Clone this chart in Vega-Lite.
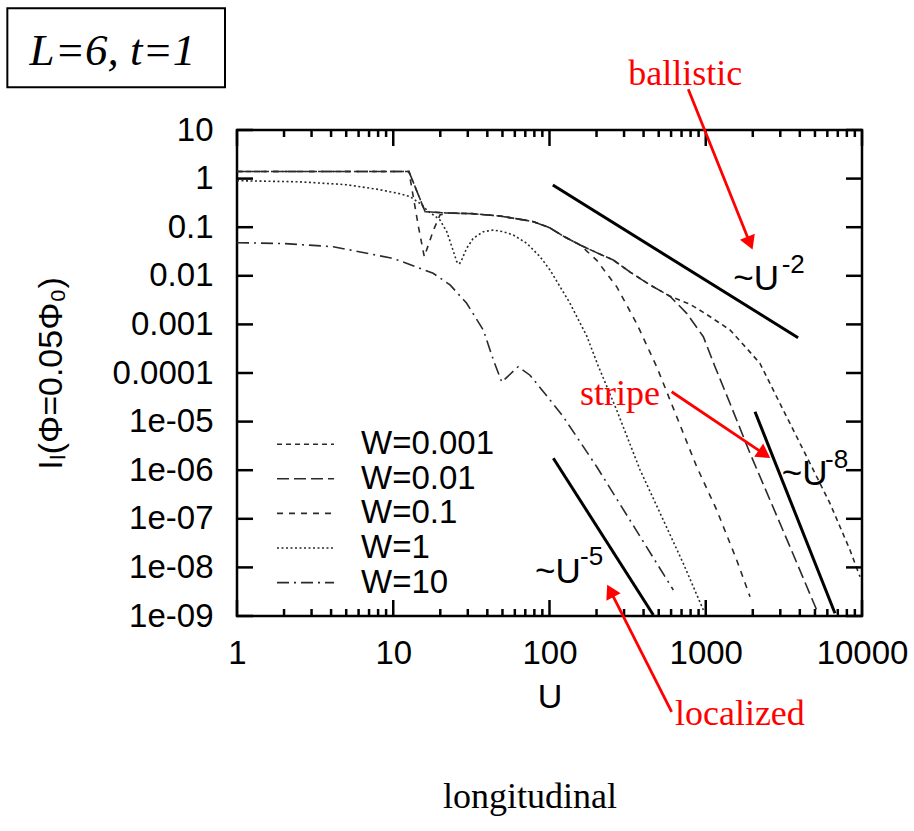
{
  "$schema": "https://vega.github.io/schema/vega-lite/v6.json",
  "width": 625,
  "height": 486,
  "autosize": {"type": "none"},
  "padding": {"left": 237, "top": 130, "right": 52, "bottom": 215},
  "background": "white",
  "config": {
    "view": {"stroke": "black", "strokeWidth": 2.5},
    "axis": {
      "grid": false,
      "domain": false,
      "labelFont": "Liberation Sans",
      "labelFontSize": 33,
      "labelColor": "black",
      "labelFlush": false,
      "labelOverlap": false,
      "tickSize": 0,
      "tickOpacity": 0,
      "titleFont": "Liberation Sans",
      "titleFontSize": 34,
      "titleFontWeight": "normal",
      "titleColor": "black"
    }
  },
  "datasets": {
    "curves": [
      {"W": "W=0.001", "U": 1, "I": 1.4}, {"W": "W=0.001", "U": 5, "I": 1.4}, {"W": "W=0.001", "U": 12.6, "I": 1.4},
      {"W": "W=0.001", "U": 16, "I": 0.208}, {"W": "W=0.001", "U": 22, "I": 0.196}, {"W": "W=0.001", "U": 32, "I": 0.19},
      {"W": "W=0.001", "U": 48, "I": 0.17}, {"W": "W=0.001", "U": 65, "I": 0.145}, {"W": "W=0.001", "U": 79, "I": 0.13},
      {"W": "W=0.001", "U": 100, "I": 0.098}, {"W": "W=0.001", "U": 123, "I": 0.065}, {"W": "W=0.001", "U": 157, "I": 0.043},
      {"W": "W=0.001", "U": 200, "I": 0.03}, {"W": "W=0.001", "U": 256, "I": 0.0211}, {"W": "W=0.001", "U": 330, "I": 0.0118},
      {"W": "W=0.001", "U": 440, "I": 0.0065}, {"W": "W=0.001", "U": 590, "I": 0.0038}, {"W": "W=0.001", "U": 793, "I": 0.0026},
      {"W": "W=0.001", "U": 1000, "I": 0.00165}, {"W": "W=0.001", "U": 1429, "I": 0.00077}, {"W": "W=0.001", "U": 1800, "I": 0.00034},
      {"W": "W=0.001", "U": 2223, "I": 0.000158}, {"W": "W=0.001", "U": 3133, "I": 1.73e-5}, {"W": "W=0.001", "U": 4426, "I": 1.9e-6},
      {"W": "W=0.001", "U": 6237, "I": 2.08e-7}, {"W": "W=0.001", "U": 8375, "I": 2.28e-8}, {"W": "W=0.001", "U": 9709, "I": 6.4e-9},

      {"W": "W=0.01", "U": 1, "I": 1.4}, {"W": "W=0.01", "U": 5, "I": 1.4}, {"W": "W=0.01", "U": 12.6, "I": 1.4},
      {"W": "W=0.01", "U": 16, "I": 0.208}, {"W": "W=0.01", "U": 22, "I": 0.196}, {"W": "W=0.01", "U": 32, "I": 0.19},
      {"W": "W=0.01", "U": 48, "I": 0.17}, {"W": "W=0.01", "U": 65, "I": 0.145}, {"W": "W=0.01", "U": 79, "I": 0.13},
      {"W": "W=0.01", "U": 100, "I": 0.098}, {"W": "W=0.01", "U": 123, "I": 0.065}, {"W": "W=0.01", "U": 157, "I": 0.043},
      {"W": "W=0.01", "U": 200, "I": 0.03}, {"W": "W=0.01", "U": 256, "I": 0.0211}, {"W": "W=0.01", "U": 330, "I": 0.0118},
      {"W": "W=0.01", "U": 440, "I": 0.0065}, {"W": "W=0.01", "U": 590, "I": 0.0038}, {"W": "W=0.01", "U": 755, "I": 0.00169},
      {"W": "W=0.01", "U": 965, "I": 0.000558}, {"W": "W=0.01", "U": 1146, "I": 0.000135}, {"W": "W=0.01", "U": 1429, "I": 2.38e-5},
      {"W": "W=0.01", "U": 1920, "I": 2.23e-6}, {"W": "W=0.01", "U": 2577, "I": 2.44e-7}, {"W": "W=0.01", "U": 3459, "I": 2.67e-8},
      {"W": "W=0.01", "U": 5129, "I": 1.33e-9},

      {"W": "W=0.1", "U": 1, "I": 1.4}, {"W": "W=0.1", "U": 5, "I": 1.4}, {"W": "W=0.1", "U": 12.6, "I": 1.4},
      {"W": "W=0.1", "U": 14.5, "I": 0.102}, {"W": "W=0.1", "U": 15.8, "I": 0.0247}, {"W": "W=0.1", "U": 18.1, "I": 0.0875},
      {"W": "W=0.1", "U": 19.9, "I": 0.178}, {"W": "W=0.1", "U": 22, "I": 0.196}, {"W": "W=0.1", "U": 32, "I": 0.19},
      {"W": "W=0.1", "U": 48, "I": 0.17}, {"W": "W=0.1", "U": 65, "I": 0.145}, {"W": "W=0.1", "U": 79, "I": 0.13},
      {"W": "W=0.1", "U": 100, "I": 0.098}, {"W": "W=0.1", "U": 123, "I": 0.065}, {"W": "W=0.1", "U": 157, "I": 0.043},
      {"W": "W=0.1", "U": 200, "I": 0.0211}, {"W": "W=0.1", "U": 269, "I": 0.00597}, {"W": "W=0.1", "U": 361, "I": 0.00105},
      {"W": "W=0.1", "U": 485, "I": 0.000135}, {"W": "W=0.1", "U": 652, "I": 1.26e-5}, {"W": "W=0.1", "U": 875, "I": 1.18e-6},
      {"W": "W=0.1", "U": 1175, "I": 1.52e-7}, {"W": "W=0.1", "U": 1578, "I": 1.42e-8}, {"W": "W=0.1", "U": 1920, "I": 2.49e-9},

      {"W": "W=1", "U": 1, "I": 0.905}, {"W": "W=1", "U": 2.5, "I": 0.86}, {"W": "W=1", "U": 5, "I": 0.75},
      {"W": "W=1", "U": 8, "I": 0.6}, {"W": "W=1", "U": 9.5, "I": 0.537}, {"W": "W=1", "U": 11, "I": 0.49},
      {"W": "W=1", "U": 12.8, "I": 0.425}, {"W": "W=1", "U": 14.8, "I": 0.31}, {"W": "W=1", "U": 16.4, "I": 0.226},
      {"W": "W=1", "U": 18.1, "I": 0.178}, {"W": "W=1", "U": 19.9, "I": 0.141}, {"W": "W=1", "U": 22, "I": 0.081},
      {"W": "W=1", "U": 23.7, "I": 0.04}, {"W": "W=1", "U": 25.5, "I": 0.0195}, {"W": "W=1", "U": 26.5, "I": 0.0175},
      {"W": "W=1", "U": 27.4, "I": 0.0211}, {"W": "W=1", "U": 29.5, "I": 0.0368}, {"W": "W=1", "U": 32.5, "I": 0.0592},
      {"W": "W=1", "U": 37.7, "I": 0.0807}, {"W": "W=1", "U": 43.7, "I": 0.0875}, {"W": "W=1", "U": 50.6, "I": 0.0807},
      {"W": "W=1", "U": 58.6, "I": 0.0692}, {"W": "W=1", "U": 71.5, "I": 0.0467}, {"W": "W=1", "U": 87, "I": 0.0247},
      {"W": "W=1", "U": 100.7, "I": 0.0132}, {"W": "W=1", "U": 135, "I": 0.00275}, {"W": "W=1", "U": 173, "I": 0.00058},
      {"W": "W=1", "U": 205, "I": 0.00014}, {"W": "W=1", "U": 269, "I": 1.73e-5}, {"W": "W=1", "U": 380, "I": 1.01e-6},
      {"W": "W=1", "U": 535, "I": 9.4e-8}, {"W": "W=1", "U": 718, "I": 1.21e-8}, {"W": "W=1", "U": 965, "I": 1.33e-9},

      {"W": "W=10", "U": 1, "I": 0.048}, {"W": "W=10", "U": 2, "I": 0.046}, {"W": "W=10", "U": 4.13, "I": 0.0397},
      {"W": "W=10", "U": 9.5, "I": 0.0235}, {"W": "W=10", "U": 11, "I": 0.0205}, {"W": "W=10", "U": 18, "I": 0.0113},
      {"W": "W=10", "U": 23.1, "I": 0.0065}, {"W": "W=10", "U": 29.5, "I": 0.00272}, {"W": "W=10", "U": 37.7, "I": 0.000767},
      {"W": "W=10", "U": 44, "I": 0.000175}, {"W": "W=10", "U": 49.5, "I": 6.5e-5}, {"W": "W=10", "U": 63, "I": 0.000135},
      {"W": "W=10", "U": 75, "I": 9e-5}, {"W": "W=10", "U": 100.7, "I": 2.8e-5}, {"W": "W=10", "U": 122.5, "I": 1.26e-5},
      {"W": "W=10", "U": 200.5, "I": 1.18e-6}, {"W": "W=10", "U": 327, "I": 9.4e-8}, {"W": "W=10", "U": 620, "I": 3.43e-9}
    ],
    "xTicks": [
      {"U": 1, "kind": "major"}, {"U": 10, "kind": "major"}, {"U": 100, "kind": "major"}, {"U": 1000, "kind": "major"}, {"U": 10000, "kind": "major"},
      {"U": 2, "kind": "minor"}, {"U": 3, "kind": "minor"}, {"U": 4, "kind": "minor"}, {"U": 5, "kind": "minor"}, {"U": 6, "kind": "minor"}, {"U": 7, "kind": "minor"}, {"U": 8, "kind": "minor"}, {"U": 9, "kind": "minor"},
      {"U": 20, "kind": "minor"}, {"U": 30, "kind": "minor"}, {"U": 40, "kind": "minor"}, {"U": 50, "kind": "minor"}, {"U": 60, "kind": "minor"}, {"U": 70, "kind": "minor"}, {"U": 80, "kind": "minor"}, {"U": 90, "kind": "minor"},
      {"U": 200, "kind": "minor"}, {"U": 300, "kind": "minor"}, {"U": 400, "kind": "minor"}, {"U": 500, "kind": "minor"}, {"U": 600, "kind": "minor"}, {"U": 700, "kind": "minor"}, {"U": 800, "kind": "minor"}, {"U": 900, "kind": "minor"},
      {"U": 2000, "kind": "minor"}, {"U": 3000, "kind": "minor"}, {"U": 4000, "kind": "minor"}, {"U": 5000, "kind": "minor"}, {"U": 6000, "kind": "minor"}, {"U": 7000, "kind": "minor"}, {"U": 8000, "kind": "minor"}, {"U": 9000, "kind": "minor"}
    ],
    "yTicks": [
      {"I": 1e-9}, {"I": 1e-8}, {"I": 1e-7}, {"I": 1e-6}, {"I": 1e-5}, {"I": 0.0001}, {"I": 0.001}, {"I": 0.01}, {"I": 0.1}, {"I": 1}, {"I": 10}
    ],
    "laws": [
      {"law": "-2", "U": 105, "I": 0.735}, {"law": "-2", "U": 3900, "I": 0.000533},
      {"law": "-5", "U": 105.8, "I": 1.76e-6}, {"law": "-5", "U": 462, "I": 1.05e-9},
      {"law": "-8", "U": 2066, "I": 1.6e-5}, {"law": "-8", "U": 6714, "I": 1.14e-9}
    ],
    "lawLabels": [
      {"text": "~U", "U": 1500, "I": 0.0051},
      {"text": "~U", "U": 3062, "I": 4.95e-7},
      {"text": "~U", "U": 80.7, "I": 4.71e-9}
    ],
    "lawExponents": [
      {"text": "-2", "U": 3062, "I": 0.01125},
      {"text": "-8", "U": 5796, "I": 1.09e-6},
      {"text": "-5", "U": 156.7, "I": 1.12e-8}
    ],
    "notes": [
      {"text": "ballistic", "U": 319, "I": 84.4},
      {"text": "stripe", "U": 156.7, "I": 2.2e-5},
      {"text": "localized", "U": 635, "I": 5.71e-12}
    ],
    "arrows": [
      {"arrow": "ballistic", "end": "tail", "U": 773, "I": 68.7},
      {"arrow": "ballistic", "end": "head", "U": 1894, "I": 0.0522},
      {"arrow": "stripe", "end": "tail", "U": 605, "I": 4.12e-5},
      {"arrow": "stripe", "end": "head", "U": 2309, "I": 2.28e-6},
      {"arrow": "localized", "end": "tail", "U": 605, "I": 1.07e-11},
      {"arrow": "localized", "end": "head", "U": 249, "I": 2.99e-9}
    ]
  },
  "layer": [
    {
      "data": {"name": "curves"},
      "mark": {"type": "line", "strokeWidth": 1.6, "color": "#2a2a2a"},
      "encoding": {
        "x": {
          "field": "U", "type": "quantitative",
          "scale": {"type": "log", "domain": [1, 10000], "nice": false},
          "axis": {
            "orient": "bottom",
            "values": [1, 10, 100, 1000, 10000],
            "labelExpr": "toString(datum.value)",
            "labelPadding": 21,
            "title": "U",
            "titlePadding": 10
          }
        },
        "y": {
          "field": "I", "type": "quantitative",
          "scale": {"type": "log", "domain": [1e-9, 10], "nice": false},
          "axis": {
            "orient": "left",
            "values": [1e-9, 1e-8, 1e-7, 1e-6, 1e-5, 0.0001, 0.001, 0.01, 0.1, 1, 10],
            "labelExpr": "datum.value >= 0.0001 ? toString(datum.value) : '1e-0' + toString(round(-log(datum.value) / LN10))",
            "labelPadding": 24,
            "title": "Iₗ(Φ=0.05Φ₀)",
            "titlePadding": 44
          }
        },
        "strokeDash": {
          "field": "W", "type": "nominal",
          "scale": {
            "domain": ["W=0.001", "W=0.01", "W=0.1", "W=1", "W=10"],
            "range": [[5, 4], [12, 5], [6, 6], [2, 2.5], [12, 5, 2, 5]]
          },
          "legend": {
            "orient": "none",
            "legendX": 39,
            "legendY": 297.5,
            "title": null,
            "padding": 0,
            "symbolType": "stroke",
            "symbolSize": 3249,
            "symbolStrokeWidth": 1.6,
            "symbolStrokeColor": "#2a2a2a",
            "clipHeight": 33.4,
            "rowPadding": 0.6,
            "labelFont": "Liberation Sans",
            "labelFontSize": 33,
            "labelColor": "black",
            "labelOffset": 26
          }
        }
      }
    },
    {
      "data": {"name": "xTicks"},
      "transform": [{"filter": "datum.kind == 'major'"}],
      "mark": {"type": "rule", "color": "black", "strokeWidth": 2.5, "y2Offset": -16},
      "encoding": {
        "x": {"field": "U", "type": "quantitative"},
        "y": {"datum": 1e-9, "type": "quantitative"},
        "y2": {"datum": 1e-9}
      }
    },
    {
      "data": {"name": "xTicks"},
      "transform": [{"filter": "datum.kind == 'minor'"}],
      "mark": {"type": "rule", "color": "black", "strokeWidth": 2.5, "y2Offset": -7},
      "encoding": {
        "x": {"field": "U", "type": "quantitative"},
        "y": {"datum": 1e-9, "type": "quantitative"},
        "y2": {"datum": 1e-9}
      }
    },
    {
      "data": {"name": "xTicks"},
      "transform": [{"filter": "datum.kind == 'major'"}],
      "mark": {"type": "rule", "color": "black", "strokeWidth": 2.5, "y2Offset": 16},
      "encoding": {
        "x": {"field": "U", "type": "quantitative"},
        "y": {"datum": 10, "type": "quantitative"},
        "y2": {"datum": 10}
      }
    },
    {
      "data": {"name": "xTicks"},
      "transform": [{"filter": "datum.kind == 'minor'"}],
      "mark": {"type": "rule", "color": "black", "strokeWidth": 2.5, "y2Offset": 7},
      "encoding": {
        "x": {"field": "U", "type": "quantitative"},
        "y": {"datum": 10, "type": "quantitative"},
        "y2": {"datum": 10}
      }
    },
    {
      "data": {"name": "yTicks"},
      "mark": {"type": "rule", "color": "black", "strokeWidth": 2.5, "x2Offset": 16},
      "encoding": {
        "y": {"field": "I", "type": "quantitative"},
        "x": {"datum": 1, "type": "quantitative"},
        "x2": {"datum": 1}
      }
    },
    {
      "data": {"name": "yTicks"},
      "mark": {"type": "rule", "color": "black", "strokeWidth": 2.5, "x2Offset": -16},
      "encoding": {
        "y": {"field": "I", "type": "quantitative"},
        "x": {"datum": 10000, "type": "quantitative"},
        "x2": {"datum": 10000}
      }
    },
    {
      "data": {"name": "laws"},
      "mark": {"type": "line", "strokeWidth": 3, "color": "black"},
      "encoding": {
        "x": {"field": "U", "type": "quantitative"},
        "y": {"field": "I", "type": "quantitative"},
        "detail": {"field": "law", "type": "nominal"}
      }
    },
    {
      "data": {"name": "lawLabels"},
      "mark": {"type": "text", "font": "Liberation Sans", "fontSize": 35, "align": "left", "baseline": "alphabetic", "color": "black"},
      "encoding": {
        "x": {"field": "U", "type": "quantitative"},
        "y": {"field": "I", "type": "quantitative"},
        "text": {"field": "text"}
      }
    },
    {
      "data": {"name": "lawExponents"},
      "mark": {"type": "text", "font": "Liberation Sans", "fontSize": 26, "align": "left", "baseline": "alphabetic", "color": "black"},
      "encoding": {
        "x": {"field": "U", "type": "quantitative"},
        "y": {"field": "I", "type": "quantitative"},
        "text": {"field": "text"}
      }
    },
    {
      "data": {"name": "notes"},
      "mark": {"type": "text", "font": "Liberation Serif", "fontSize": 36, "align": "left", "baseline": "alphabetic", "color": "#ff0000"},
      "encoding": {
        "x": {"field": "U", "type": "quantitative"},
        "y": {"field": "I", "type": "quantitative"},
        "text": {"field": "text"}
      }
    },
    {
      "data": {"name": "arrows"},
      "mark": {"type": "line", "strokeWidth": 2.8, "color": "#ff0000"},
      "encoding": {
        "x": {"field": "U", "type": "quantitative"},
        "y": {"field": "I", "type": "quantitative"},
        "detail": {"field": "arrow", "type": "nominal"}
      }
    },
    {
      "data": {"name": "arrows"},
      "transform": [{"filter": "datum.end == 'head' && datum.arrow == 'ballistic'"}],
      "mark": {"type": "point", "shape": "triangle", "filled": true, "size": 256, "angle": 158, "color": "#ff0000", "opacity": 1, "strokeWidth": 0},
      "encoding": {
        "x": {"field": "U", "type": "quantitative"},
        "y": {"field": "I", "type": "quantitative"}
      }
    },
    {
      "data": {"name": "arrows"},
      "transform": [{"filter": "datum.end == 'head' && datum.arrow == 'stripe'"}],
      "mark": {"type": "point", "shape": "triangle", "filled": true, "size": 256, "angle": 124, "color": "#ff0000", "opacity": 1, "strokeWidth": 0},
      "encoding": {
        "x": {"field": "U", "type": "quantitative"},
        "y": {"field": "I", "type": "quantitative"}
      }
    },
    {
      "data": {"name": "arrows"},
      "transform": [{"filter": "datum.end == 'head' && datum.arrow == 'localized'"}],
      "mark": {"type": "point", "shape": "triangle", "filled": true, "size": 256, "angle": 333, "color": "#ff0000", "opacity": 1, "strokeWidth": 0},
      "encoding": {
        "x": {"field": "U", "type": "quantitative"},
        "y": {"field": "I", "type": "quantitative"}
      }
    },
    {
      "data": {"values": [{"text": "longitudinal", "U": 75, "I": 1.12e-13}]},
      "mark": {"type": "text", "font": "Liberation Serif", "fontSize": 36, "align": "center", "baseline": "alphabetic", "color": "black"},
      "encoding": {
        "x": {"field": "U", "type": "quantitative"},
        "y": {"field": "I", "type": "quantitative"},
        "text": {"field": "text"}
      }
    },
    {
      "data": {"values": [{"U": 0.0339, "U2": 0.838, "I": 3192, "I2": 75.7}]},
      "mark": {"type": "rect", "fill": "white", "stroke": "black", "strokeWidth": 2},
      "encoding": {
        "x": {"field": "U", "type": "quantitative"},
        "x2": {"field": "U2"},
        "y": {"field": "I", "type": "quantitative"},
        "y2": {"field": "I2"}
      }
    },
    {
      "data": {"values": [{"text": "L=6, t=1", "U": 0.1596, "I": 217}]},
      "mark": {"type": "text", "font": "Liberation Serif", "fontStyle": "italic", "fontSize": 45, "align": "center", "baseline": "alphabetic", "color": "black"},
      "encoding": {
        "x": {"field": "U", "type": "quantitative"},
        "y": {"field": "I", "type": "quantitative"},
        "text": {"field": "text"}
      }
    }
  ]
}
